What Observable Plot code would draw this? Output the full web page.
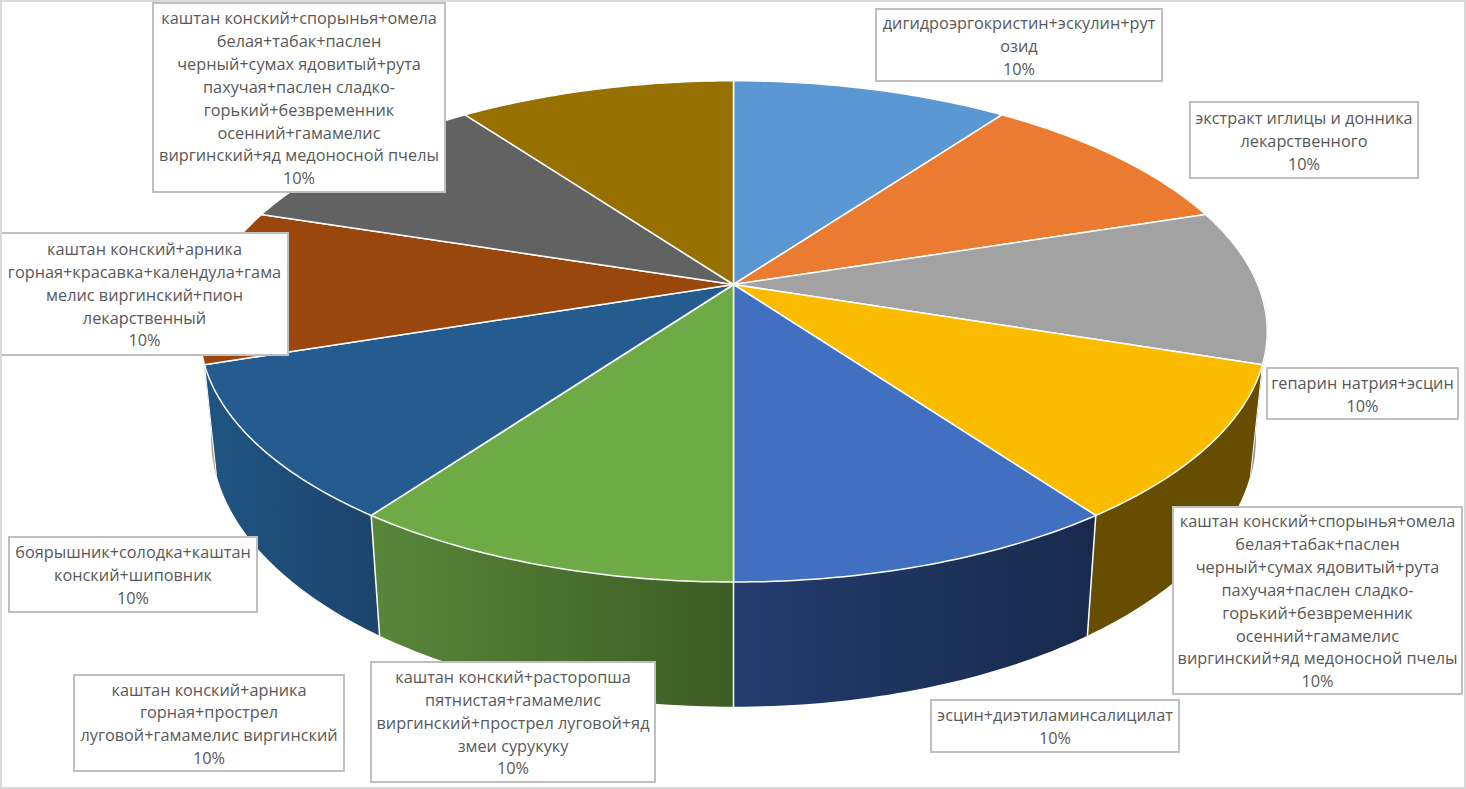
<!DOCTYPE html>
<html><head><meta charset="utf-8">
<script src="https://cdn.jsdelivr.net/npm/d3@7"></script>
<script src="https://cdn.jsdelivr.net/npm/@observablehq/plot@0.6"></script>
<style>html,body{margin:0;padding:0;background:#fff}svg{display:block}</style>
</head><body><div id="chart"></div>
<script>
const categories = [
  "дигидроэргокристин+эскулин+рут\nозид",
  "экстракт иглицы и донника\nлекарственного",
  "гепарин натрия+эсцин",
  "каштан конский+спорынья+омела\nбелая+табак+паслен\nчерный+сумах ядовитый+рута\nпахучая+паслен сладко-\nгорький+безвременник\nосенний+гамамелис\nвиргинский+яд медоносной пчелы",
  "эсцин+диэтиламинсалицилат",
  "каштан конский+расторопша\nпятнистая+гамамелис\nвиргинский+прострел луговой+яд\nзмеи сурукуку",
  "каштан конский+арника\nгорная+прострел\nлуговой+гамамелис виргинский",
  "боярышник+солодка+каштан\nконский+шиповник",
  "каштан конский+арника\nгорная+красавка+календула+гама\nмелис виргинский+пион\nлекарственный",
  "каштан конский+спорынья+омела\nбелая+табак+паслен\nчерный+сумах ядовитый+рута\nпахучая+паслен сладко-\nгорький+безвременник\nосенний+гамамелис\nвиргинский+яд медоносной пчелы"
];
const shares = [10, 10, 10, 10, 10, 10, 10, 10, 10, 10];
const faceColors = ["#5A97D3","#EB7B30","#A2A2A2","#FBBC00","#4270C1","#6EAB46","#255C8F","#9A470D","#626262","#967000"];
const wallLeft  = ["#3d6d96","#a5571f","#8a8a8a","#664D00","#233C6E","#58873A","#1F5582","#c79a7a","#454545","#6b5000"];
const wallRight = ["#3d6d96","#a5571f","#8a8a8a","#664D00","#182A4C","#3C5C24","#1C446C","#c79a7a","#454545","#6b5000"];

// label box edges, in picture pixels: x1, y1, x2, y2
const labelBoxes = [
  [876, 9, 1162, 81], [1190, 102, 1418, 178], [1267, 368, 1458, 419],
  [1173, 507, 1462, 694], [931, 700, 1179, 752], [371, 662, 655, 782],
  [74, 675, 344, 771], [9, 537, 257, 612], [1, 233, 288, 355], [153, 3, 445, 192]
];

// perspective of the tilted pie (top rim and bottom rim)
const cx = 733, cy = 284;
const topRim = {a: 524.6, b: 242, c: 0.8, k: 0.184};
const botRim = {a: 513, b: 240, c: 105, k: 0.183};
const project = (rim, t) => {
  const w = 1 + rim.k * Math.cos(t);
  return {x: cx + rim.a * Math.sin(t) / w, y: cy + (rim.c - rim.b * Math.cos(t)) / w};
};
const arcs = d3.pie().sort(null)(shares);
const samples = (a0, a1) => d3.range(0, 41).map(i => a0 + (a1 - a0) * i / 40);
const facePoints = arc => {
  const pts = samples(arc.startAngle, arc.endAngle).map(t => project(topRim, t));
  return [{x: cx, y: cy}, ...pts, {x: cx, y: cy}];
};
const wallPoints = arc => {
  const ts = samples(arc.startAngle, arc.endAngle);
  const pts = [...ts.map(t => project(topRim, t)), ...ts.slice().reverse().map(t => project(botRim, t))];
  return [...pts, pts[0]];
};

const defs = () => {
  const d = d3.create("svg:defs");
  shares.forEach((_, i) => {
    const g = d.append("linearGradient").attr("id", "wall" + i).attr("x1", 0).attr("x2", 1).attr("y1", 0).attr("y2", 0);
    g.append("stop").attr("offset", 0).attr("stop-color", wallLeft[i]);
    g.append("stop").attr("offset", 1).attr("stop-color", wallRight[i]);
  });
  return d.node();
};

const wallOrder = [2, 7, 3, 6, 4, 5];
const wallMarks = wallOrder.map(i => Plot.line(wallPoints(arcs[i]), {
  x: "x", y: "y", fill: `url(#wall${i})`, stroke: (i === 2 || i === 7) ? wallLeft[i] : "none", strokeWidth: 1
}));
const edgeMarks = [3, 4, 5, 6, 7].map(i => Plot.line(
  [project(topRim, arcs[i].startAngle), project(botRim, arcs[i].startAngle)],
  {x: "x", y: "y", stroke: "#fff", strokeWidth: (i === 3 || i === 7) ? 1 : 1.5}
));
const faceMarks = arcs.map((arc, i) => Plot.line(facePoints(arc), {
  x: "x", y: "y", fill: faceColors[i], stroke: "#fff", strokeWidth: 1.5, strokeLinejoin: "round"
}));

const labels = categories.map((name, i) => {
  const [x1, y1, x2, y2] = labelBoxes[i];
  return {x1, y1, x2, y2, text: `${name}\n${shares[i]}%`};
});

const chart = Plot.plot({
  width: 1466, height: 789,
  margin: 0,
  x: {domain: [0, 1466], range: [0, 1466], axis: null},
  y: {domain: [0, 789], range: [0, 789], axis: null},
  marks: [
    defs,
    ...wallMarks,
    ...edgeMarks,
    ...faceMarks,
    Plot.rect(labels, {x1: "x1", x2: "x2", y1: "y1", y2: "y2", fill: "#fff", stroke: "#BFBFBF", strokeWidth: 2}),
    Plot.text(labels, {
      x: d => (d.x1 + d.x2) / 2 - 0.5, y: d => (d.y1 + d.y2) / 2, text: "text", dy: -1,
      fontSize: 16.3, lineHeight: 1.4, fill: "#595959", lineAnchor: "middle", textAnchor: "middle",
      fontFamily: "'Open Sans', sans-serif"
    }),
    Plot.rect([{x1: 1, y1: 1, x2: 1465, y2: 788}], {x1: "x1", x2: "x2", y1: "y1", y2: "y2", fill: "none", stroke: "#D9D9D9", strokeWidth: 2})
  ]
});
document.getElementById("chart").append(chart);
</script></body></html>
